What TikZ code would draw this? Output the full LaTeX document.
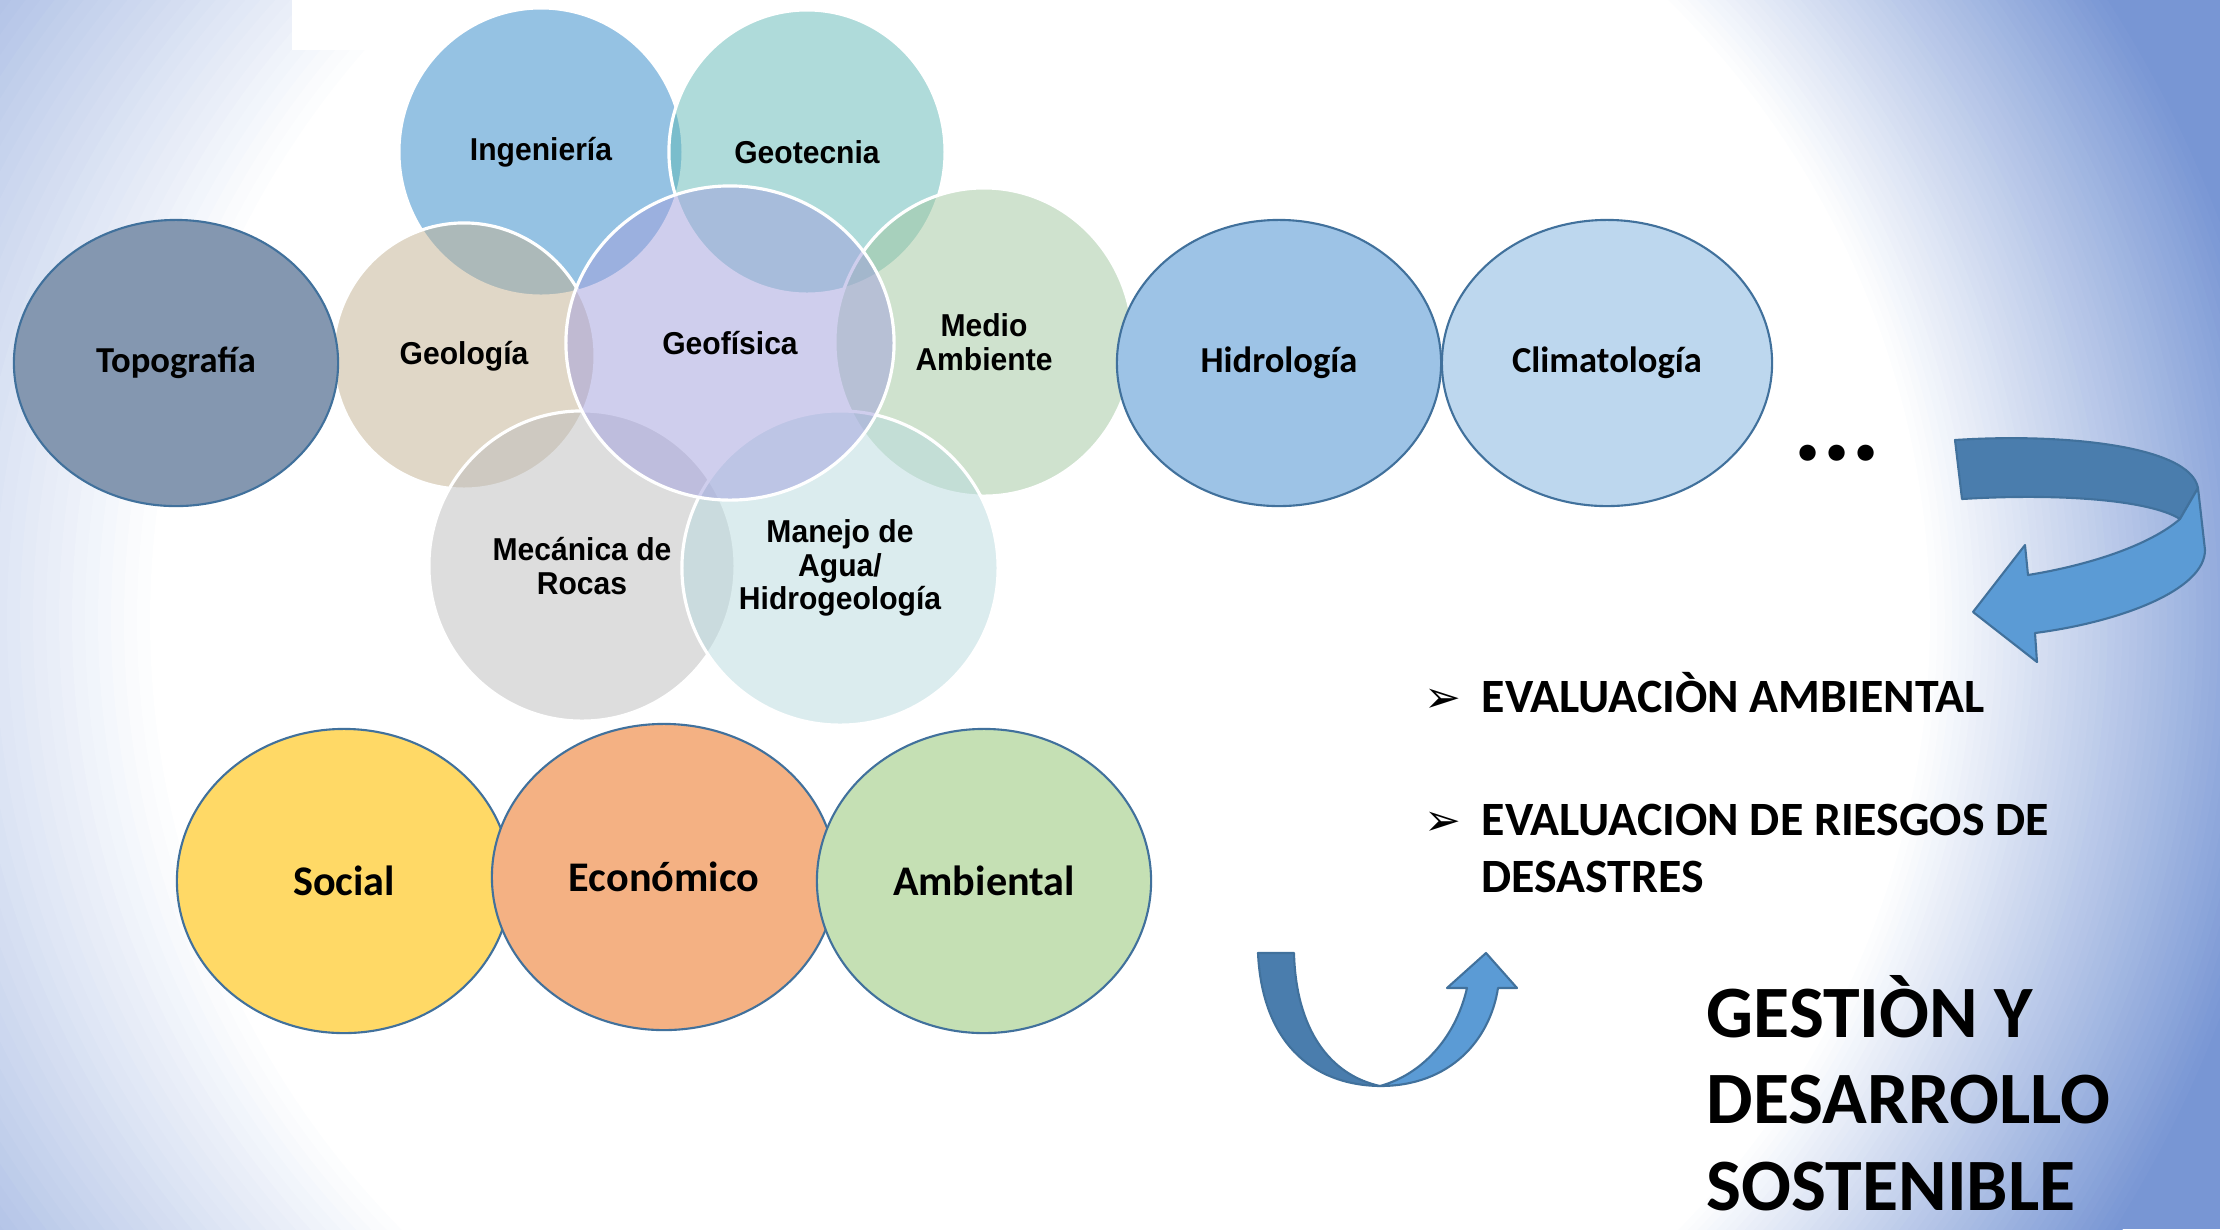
\documentclass[tikz,border=0pt]{standalone}
\usepackage{fontspec}
\setmainfont{Carlito}
\newfontfamily\vennfont{Liberation Sans}[FakeStretch=0.95]
\newfontfamily\symfont{DejaVu Sans}
\usetikzlibrary{shapes}
\definecolor{bgblue}{HTML}{7896D4}
\definecolor{ovalline}{HTML}{41719C}
\definecolor{arrowdark}{HTML}{4A7DAD}
\definecolor{arrowlight}{HTML}{5B9BD5}

\begin{document}
\begin{tikzpicture}[x=0.01cm,y=-0.01cm,every text node part/.style={align=center},
    venn/.style={ellipse,draw=white,line width=0.9pt,fill opacity=0.5,text opacity=1,inner sep=0pt,
      font=\vennfont\bfseries\fontsize{9}{9.6}\selectfont},
    oval/.style={ellipse,draw=ovalline,line width=0.6pt,inner sep=0pt},
    shape3d/.style={draw=ovalline,line width=0.6pt,line join=round},
    lefttext/.style={anchor=base west,inner sep=0pt,every text node part/.style={align=left}}]
    \useasboundingbox (0,0) rectangle (2220,1229);
    \clip (0,0) rectangle (2220,1229);
    % slide background
    \fill[bgblue] (0,0) rectangle (2220,1229);
    \foreach \k in {0,...,50} {
      \pgfmathsetmacro\t{1-\k/50}
      \pgfmathsetmacro\p{100*\t}
      \fill[bgblue!\p!white] (1040-140*\t,620) ellipse [x radius=890+510*\t, y radius=875+375*\t];
    }
    \fill[white] (292,0) rectangle (900,50);

    \node[venn,fill={rgb,255:red,45;green,135;blue,201},minimum width=2.84cm,minimum height=2.88cm] (ing) at (541,152) {Ingeniería};
    \node[venn,fill={rgb,255:red,97;green,185;blue,183},minimum width=2.76cm,minimum height=2.84cm] (geot) at (807,152) {Geotecnia};
    \node[venn,fill={rgb,255:red,161;green,199;blue,159},minimum width=2.98cm,minimum height=3.08cm] (medio) at (984,342) {Medio\\ Ambiente};
    \node[venn,fill={rgb,255:red,195;green,177;blue,145},minimum width=2.62cm,minimum height=2.66cm] (geol) at (464,356) {Geología};
    \node[venn,fill={rgb,255:red,189;green,189;blue,189},minimum width=3.06cm,minimum height=3.10cm] (meca) at (582,566) {Mecánica de\\ Rocas};
    \node[venn,fill={rgb,255:red,185;green,219;blue,223},minimum width=3.16cm,minimum height=3.14cm] (agua) at (840,568) {Manejo de\\ Agua/\\ Hidrogeología};
    \node[venn,fill={rgb,255:red,161;green,159;blue,221},minimum width=3.28cm,minimum height=3.14cm] (geof) at (730,343) {Geofísica};

    \node[oval,fill={rgb,255:red,132;green,151;blue,176},minimum width=3.24cm,minimum height=2.86cm,font=\bfseries\fontsize{10.4}{12}\selectfont] (topo) at (176,363) {Topografía};
    \node[oval,fill={rgb,255:red,157;green,195;blue,230},minimum width=3.24cm,minimum height=2.86cm,font=\bfseries\fontsize{10.4}{12}\selectfont] (hidro) at (1279,363) {Hidrología};
    \node[oval,fill={rgb,255:red,189;green,215;blue,238},minimum width=3.30cm,minimum height=2.86cm,font=\bfseries\fontsize{10.4}{12}\selectfont] (clima) at (1607,363) {Climatología};
    \node[font=\bfseries\fontsize{31}{36}\selectfont] (dots) at (1837,453) {...};

    \node[oval,fill={rgb,255:red,255;green,217;blue,102},minimum width=3.34cm,minimum height=3.04cm,font=\bfseries\fontsize{12}{14}\selectfont] (social) at (344,881) {Social};
    \node[oval,fill={rgb,255:red,244;green,177;blue,131},minimum width=3.44cm,minimum height=3.06cm,font=\bfseries\fontsize{12}{14}\selectfont] (econ) at (664,877) {Económico};
    \node[oval,fill={rgb,255:red,197;green,224;blue,180},minimum width=3.34cm,minimum height=3.04cm,font=\bfseries\fontsize{12}{14}\selectfont] (amb) at (984,881) {Ambiental};

    % curved arrow, right
    \draw[shape3d,fill=arrowdark] (1955,440) .. controls (2060,433) and (2190,445) .. (2198,488)
        -- (2180,519) .. controls (2150,500) and (2060,493) .. (1962,499) -- cycle;
    \draw[shape3d,fill=arrowlight] (2198,488) -- (2205,550) .. controls (2205,590) and (2120,622) .. (2035,633)
        -- (2037,662) -- (1973,612) -- (2025,545) -- (2028,575)
        .. controls (2090,565) and (2150,545) .. (2180,519) -- cycle;
    % U-turn arrow, bottom
    \draw[shape3d,fill=arrowdark] (1258,953) .. controls (1262,1040) and (1310,1085) .. (1380,1086)
        .. controls (1330,1075) and (1296,1030) .. (1294,953) -- cycle;
    \draw[shape3d,fill=arrowlight] (1380,1086) .. controls (1450,1086) and (1490,1040) .. (1498,988)
        -- (1517,988) -- (1486,953) -- (1447,988) -- (1467,988)
        .. controls (1455,1040) and (1420,1075) .. (1380,1086) -- cycle;

    \node[lefttext,font=\symfont\fontsize{12.5}{14}\selectfont] (b1) at (1424,712) {➢};
    \node[lefttext,font=\bfseries\fontsize{13.6}{16.2}\selectfont] (eval1) at (1481,712) {EVALUACIÒN AMBIENTAL};
    \node[lefttext,font=\symfont\fontsize{12.5}{14}\selectfont] (b2) at (1424,835) {➢};
    \node[lefttext,font=\bfseries\fontsize{13.6}{16.2}\selectfont] (eval2) at (1481,892) {EVALUACION DE RIESGOS DE\\ DESASTRES};

    \node[lefttext,font=\bfseries\fontsize{21}{24.6}\selectfont] (gestion) at (1706,1210) {GESTIÒN Y\\ DESARROLLO\\ SOSTENIBLE};
\end{tikzpicture}
\end{document}
